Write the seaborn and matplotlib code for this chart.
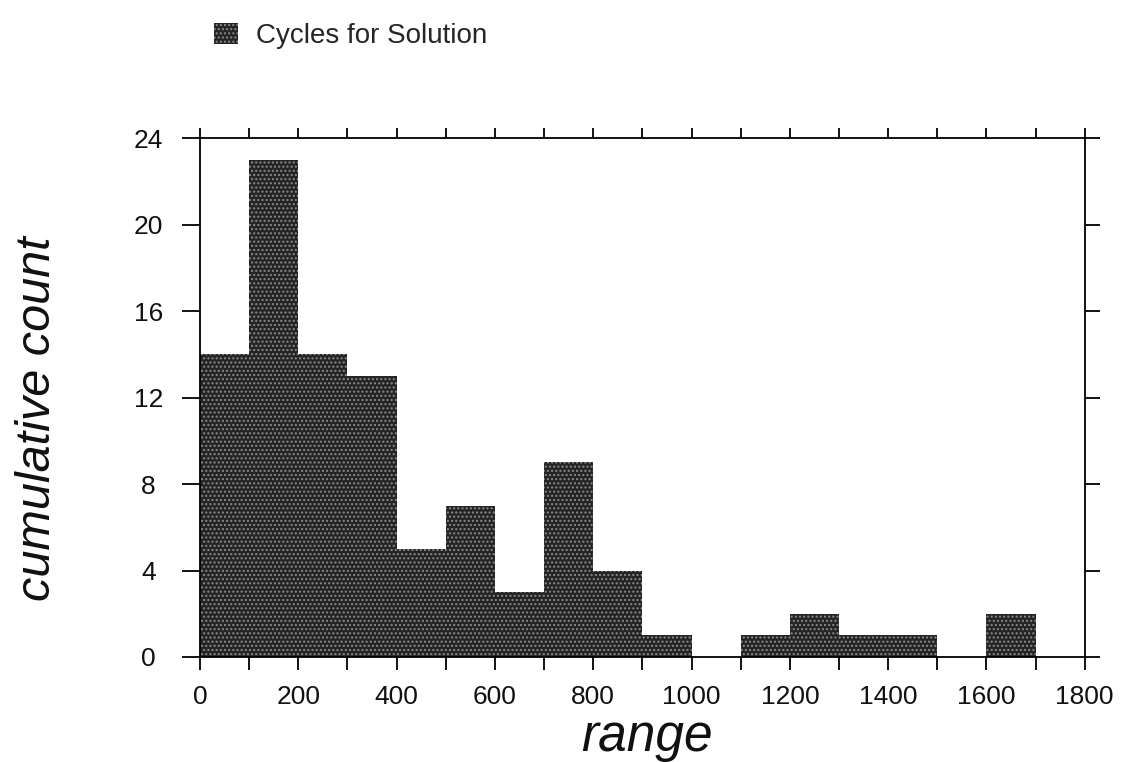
import numpy as np
import pandas as pd
import matplotlib
matplotlib.use("Agg")
import matplotlib.pyplot as plt
import seaborn as sns
from matplotlib.patches import Patch

# ---------------------------------------------------------------------------
# Data (bin width 100)
# ---------------------------------------------------------------------------
bin_left = [0, 100, 200, 300, 400, 500, 600, 700, 800, 900,
            1000, 1100, 1200, 1300, 1400, 1500, 1600]
counts = [14, 23, 14, 13, 5, 7, 3, 9, 4, 1,
          0, 1, 2, 1, 1, 0, 2]
x_ticks = [0, 200, 400, 600, 800, 1000, 1200, 1400, 1600, 1800]
y_ticks = [0, 4, 8, 12, 16, 20, 24]
series_name = "Cycles for Solution"

df = pd.DataFrame({"range": np.array(bin_left) + 50, "count": counts})

sns.set_theme(style="white")
plt.rcParams["font.family"] = ["Liberation Sans", "DejaVu Sans"]
plt.rcParams["hatch.linewidth"] = 1.0

fig = plt.figure(figsize=(11.27, 7.62), dpi=100, facecolor="white")
ax = fig.add_axes([0.1775, 0.1378, 0.785, 0.681])

bar_color = "#242424"
speckle = "#8a8a8a"
sns.histplot(data=df, x="range", weights="count", binwidth=100, binrange=(0, 1700),
             color=bar_color, alpha=1, linewidth=0, ax=ax)
for p in ax.patches:
    p.set_hatch("....")
    p.set_edgecolor(speckle)
    p.set_linewidth(0)

ax.set_xlim(0, 1800)
ax.set_ylim(0, 24)
ax.set_xticks(x_ticks)
ax.set_xticks(np.arange(0, 1800, 100), minor=True)
ax.set_yticks(y_ticks)

for s in ax.spines.values():
    s.set_visible(True)
    s.set_color("black")
    s.set_linewidth(1.3)

# bottom/top ticks every 100, all pointing outward
ax.tick_params(axis="x", which="both", direction="out", bottom=True, top=True,
               length=9, width=1.3, color="black", labelsize=19, pad=11)
ax.tick_params(axis="y", which="both", direction="out", left=True, right=True,
               length=13, width=1.3, color="black", labelsize=19, pad=24)
for t in ax.xaxis.get_major_ticks() + ax.xaxis.get_minor_ticks():
    t.tick2line.set_markersize(7)
for t in ax.yaxis.get_major_ticks():
    t.tick2line.set_markersize(11)
for lbl in ax.get_yticklabels():
    lbl.set_horizontalalignment("center")
for lbl in ax.get_xticklabels() + ax.get_yticklabels():
    lbl.set_color("#111111")

ax.set_xlabel("range", fontsize=37, style="italic", color="#111111")
ax.xaxis.set_label_coords(0.505, -0.108)
ax.set_ylabel("cumulative count", fontsize=35, style="italic", color="#111111")
ax.yaxis.set_label_coords(-0.158, 0.46)

handle = Patch(facecolor=bar_color, edgecolor=speckle, hatch="....", linewidth=0)
fig.legend([handle], [series_name], loc="upper left",
           bbox_to_anchor=(0.168, 1.003), frameon=False, fontsize=20,
           handlelength=0.85, handleheight=0.8, handletextpad=0.65)

fig.savefig("out.png", dpi=100, facecolor="white")
